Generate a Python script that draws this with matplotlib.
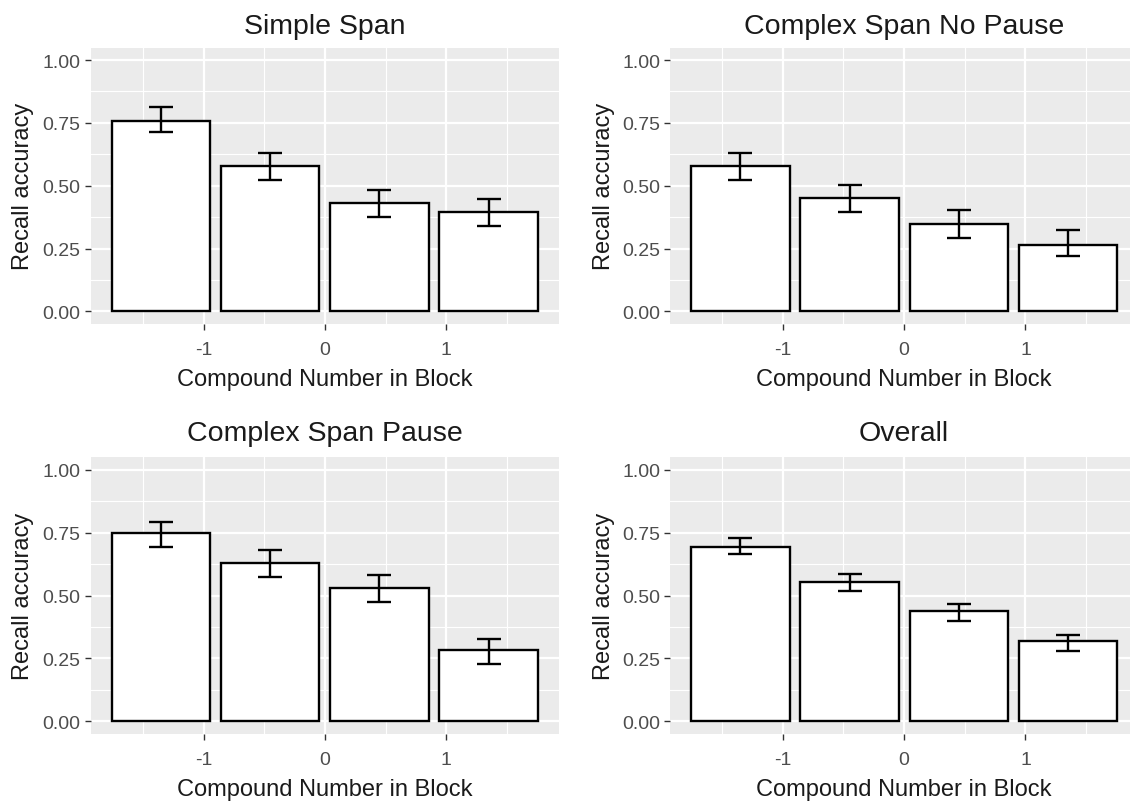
import matplotlib
matplotlib.use("Agg")
import matplotlib.pyplot as plt
import numpy as np

plt.rcParams['font.family'] = ['Liberation Sans', 'DejaVu Sans']

# ---- data ----
compound = [-1.35, -0.45, 0.45, 1.35]
panel_titles = ["Simple Span", "Complex Span No Pause", "Complex Span Pause", "Overall"]

simple_mean = [0.759, 0.577, 0.431, 0.395]
simple_lo = [0.712, 0.522, 0.376, 0.339]
simple_hi = [0.814, 0.631, 0.485, 0.448]

nopause_mean = [0.577, 0.451, 0.347, 0.266]
nopause_lo = [0.521, 0.395, 0.294, 0.221]
nopause_hi = [0.630, 0.504, 0.403, 0.322]

pause_mean = [0.747, 0.629, 0.529, 0.283]
pause_lo = [0.692, 0.575, 0.474, 0.228]
pause_hi = [0.791, 0.682, 0.583, 0.327]

overall_mean = [0.693, 0.555, 0.438, 0.318]
overall_lo = [0.665, 0.519, 0.400, 0.281]
overall_hi = [0.730, 0.584, 0.465, 0.344]

xticks = [-1, 0, 1]
xticklabels = ["-1", "0", "1"]
yticks = [0.0, 0.25, 0.5, 0.75, 1.0]
yticklabels = ["0.00", "0.25", "0.50", "0.75", "1.00"]
xlabel = "Compound Number in Block"
ylabel = "Recall accuracy"

panels = [
    (simple_mean, simple_lo, simple_hi),
    (nopause_mean, nopause_lo, nopause_hi),
    (pause_mean, pause_lo, pause_hi),
    (overall_mean, overall_lo, overall_hi),
]

W, H = 1130, 804
fig = plt.figure(figsize=(W / 100, H / 100), dpi=100)
fig.patch.set_facecolor("white")

cols = [(90.7, 559.0), (670.0, 1138.3)]
rows = [(48.5, 325.0), (458.0, 735.0)]
title_base = [33.5, 441.0]
xlab_base = [386.5, 796.5]
ylab_x = [23.0, 604.0]

BG = "#EBEBEB"
TXT = "#4D4D4D"

for i, (mean, lo, hi) in enumerate(panels):
    r, c = divmod(i, 2)
    x0, x1 = cols[c]
    y0, y1 = rows[r]
    ax = fig.add_axes([x0 / W, 1 - y1 / H, (x1 - x0) / W, (y1 - y0) / H])
    ax.set_facecolor(BG)
    for s in ax.spines.values():
        s.set_visible(False)
    ax.set_xlim(-1.93, 1.93)
    ax.set_ylim(-0.05, 1.05)
    ax.set_xticks(xticks)
    ax.set_xticklabels(xticklabels)
    ax.set_yticks(yticks)
    ax.set_yticklabels(yticklabels)
    ax.set_xticks([-1.5, -0.5, 0.5, 1.5], minor=True)
    ax.set_yticks([0.125, 0.375, 0.625, 0.875], minor=True)
    ax.grid(which="major", color="white", linewidth=1.6)
    ax.grid(which="minor", color="white", linewidth=0.8)
    ax.set_axisbelow(True)
    ax.tick_params(which="major", length=4.2, width=1.0, color="#333333",
                   labelsize=14, labelcolor=TXT)
    ax.tick_params(axis="x", which="major", pad=8.0)
    ax.tick_params(axis="y", which="major", pad=3.0)
    ax.tick_params(which="minor", length=0)

    m = np.array(mean)
    err = np.vstack([m - np.array(lo), np.array(hi) - m])
    ax.bar(compound, m, width=0.81, color="white", edgecolor="black",
           linewidth=1.7, zorder=2)
    ax.errorbar(compound, m, yerr=err, fmt="none", ecolor="black",
                elinewidth=1.7, capsize=8.7, capthick=1.7, zorder=3)

    cx = (x0 + x1) / 2
    fig.text(cx / W, 1 - title_base[r] / H, panel_titles[i], ha="center",
             va="baseline", fontsize=20.5, color="#1A1A1A")
    fig.text(cx / W, 1 - xlab_base[r] / H, xlabel, ha="center",
             va="baseline", fontsize=17, color="#1A1A1A")
    fig.text(ylab_x[c] / W, 1 - ((y0 + y1) / 2) / H, ylabel, ha="center",
             va="center", rotation=90, fontsize=17, color="#1A1A1A")

fig.savefig("out.png", dpi=100)
